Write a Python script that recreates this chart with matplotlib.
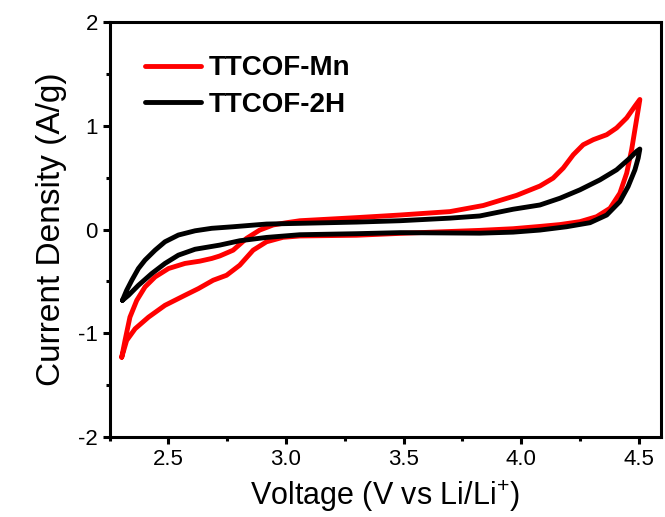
import matplotlib
matplotlib.use("Agg")
import matplotlib.pyplot as plt
from matplotlib.ticker import MultipleLocator

plt.rcParams['font.family'] = ['Liberation Sans', 'DejaVu Sans']
plt.rcParams['axes.unicode_minus'] = False
plt.rcParams['mathtext.default'] = 'regular'

# TTCOF-Mn: anodic branch (left tip -> right tip), then cathodic branch back
mn_v_up = [2.301, 2.315, 2.336, 2.365, 2.400, 2.443, 2.500, 2.570, 2.633, 2.684, 2.718,
           2.775, 2.832, 2.888, 2.945, 3.002, 3.059, 3.300, 3.484, 3.697, 3.839, 3.981,
           4.080, 4.136, 4.179, 4.222, 4.264, 4.307, 4.364, 4.406, 4.449, 4.484, 4.505]
mn_i_up = [-1.232, -1.070, -0.845, -0.683, -0.554, -0.457, -0.376, -0.327, -0.305, -0.279,
           -0.255, -0.199, -0.085, -0.005, 0.044, 0.066, 0.085, 0.115, 0.140, 0.173, 0.232,
           0.330, 0.420, 0.496, 0.593, 0.722, 0.818, 0.867, 0.915, 0.980, 1.077, 1.190,
           1.255]
mn_v_dn = [4.498, 4.484, 4.470, 4.449, 4.420, 4.378, 4.321, 4.250, 4.165, 4.080, 3.966,
           3.824, 3.484, 3.300, 3.059, 2.987, 2.917, 2.860, 2.803, 2.747, 2.690, 2.627,
           2.570, 2.485, 2.415, 2.358, 2.322, 2.301]
mn_i_dn = [1.157, 0.964, 0.770, 0.544, 0.351, 0.205, 0.124, 0.076, 0.048, 0.030, 0.008,
           -0.008, -0.037, -0.055, -0.062, -0.075, -0.118, -0.199, -0.344, -0.441, -0.489,
           -0.570, -0.634, -0.731, -0.845, -0.957, -1.070, -1.232]

# TTCOF-2H
h2_v_up = [2.304, 2.322, 2.344, 2.372, 2.400, 2.443, 2.485, 2.542, 2.613, 2.684, 2.775,
           2.917, 3.059, 3.300, 3.484, 3.697, 3.824, 3.966, 4.080, 4.165, 4.250, 4.335,
           4.406, 4.463, 4.491, 4.505]
h2_i_up = [-0.683, -0.586, -0.489, -0.376, -0.295, -0.199, -0.118, -0.053, -0.012, 0.012,
           0.027, 0.053, 0.060, 0.072, 0.085, 0.110, 0.131, 0.196, 0.237, 0.302, 0.383,
           0.479, 0.576, 0.690, 0.754, 0.777]
h2_v_dn = [4.498, 4.484, 4.455, 4.420, 4.364, 4.293, 4.193, 4.080, 3.966, 3.824, 3.484,
           3.300, 3.059, 2.917, 2.803, 2.718, 2.613, 2.542, 2.485, 2.429, 2.372, 2.330,
           2.304]
h2_i_dn = [0.690, 0.576, 0.415, 0.270, 0.140, 0.066, 0.027, -0.005, -0.025, -0.035, -0.030,
           -0.040, -0.050, -0.076, -0.108, -0.150, -0.190, -0.247, -0.327, -0.424, -0.538,
           -0.634, -0.683]

fig = plt.figure(figsize=(6.65, 5.17), dpi=100)
ax = fig.add_axes([0.165, 0.155, 0.829, 0.802])

ax.plot(mn_v_up + mn_v_dn, mn_i_up + mn_i_dn, color='#ff0000', lw=3.5,
        label='TTCOF-Mn', solid_joinstyle='round', solid_capstyle='round')
ax.plot(h2_v_up + h2_v_dn, h2_i_up + h2_i_dn, color='black', lw=3.5,
        label='TTCOF-2H', solid_joinstyle='round', solid_capstyle='round')

ax.set_xlim(2.25, 4.595)
ax.set_ylim(-2, 2)
ax.xaxis.set_major_locator(MultipleLocator(0.5))
ax.xaxis.set_minor_locator(MultipleLocator(0.25))
ax.yaxis.set_major_locator(MultipleLocator(1))
ax.yaxis.set_minor_locator(MultipleLocator(0.5))
ax.set_xticks([2.5, 3.0, 3.5, 4.0, 4.5])
ax.set_xticklabels(['2.5', '3.0', '3.5', '4.0', '4.5'])

for s in ax.spines.values():
    s.set_linewidth(2.2)
ax.tick_params(which='major', direction='out', length=5, width=2.2, labelsize=16)
ax.tick_params(which='minor', direction='out', length=3, width=2.2)
ax.tick_params(top=False, right=False, which='both')

ax.set_xlabel('Voltage (V vs Li/Li$^{+}$)', fontsize=22, labelpad=6)
ax.set_ylabel('Current Density (A/g)', fontsize=24, labelpad=8)

ax.legend(loc='upper left', bbox_to_anchor=(0.064, 0.92), frameon=False,
          prop={'weight': 'bold', 'size': 20}, handlelength=2.0,
          handletextpad=0.3, labelspacing=0.37, borderpad=0, borderaxespad=0)

fig.savefig('out.png', dpi=100)
